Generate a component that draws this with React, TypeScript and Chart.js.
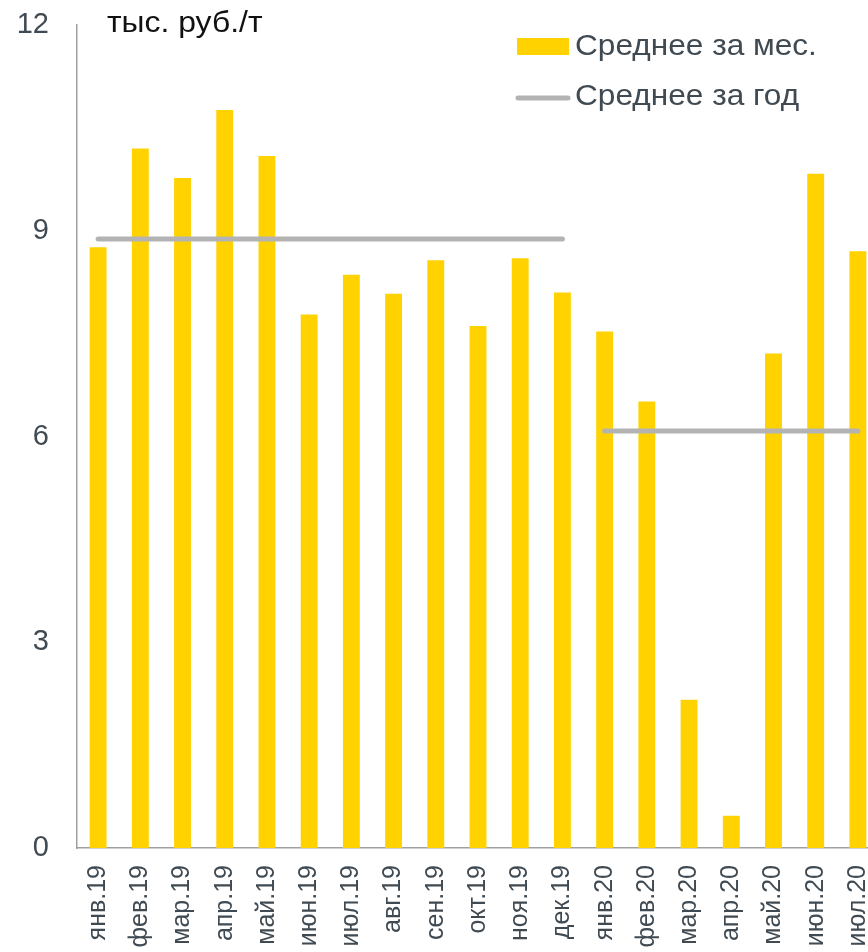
import React, { useEffect, useRef } from "react";
import { Chart, registerables } from "chart.js";

Chart.register(...registerables);

const categories = [
  "янв.19", "фев.19", "мар.19", "апр.19", "май.19", "июн.19", "июл.19", "авг.19", "сен.19", "окт.19", "ноя.19", "дек.19",
  "янв.20", "фев.20", "мар.20", "апр.20", "май.20", "июн.20", "июл.20",
];
const monthlyAvg = [8.76, 10.2, 9.77, 10.76, 10.09, 7.78, 8.36, 8.08, 8.57, 7.61, 8.6, 8.1, 7.53, 6.51, 2.16, 0.47, 7.21, 9.83, 8.7];
const yearAvg2019 = [8.88, 8.88, 8.88, 8.88, 8.88, 8.88, 8.88, 8.88, 8.88, 8.88, 8.88, 8.88, null, null, null, null, null, null, null];
const yearAvg2020 = [null, null, null, null, null, null, null, null, null, null, null, null, 6.08, 6.08, 6.08, 6.08, 6.08, 6.08, 6.08];
const yTicks = [0, 3, 6, 9, 12];
const unitLabel = "тыс. руб./т";
const seriesNames = ["Среднее за мес.", "Среднее за год"];

const YELLOW = "#FFD200";
const GRAY_LINE = "#B3B3B3";
const TEXT = "#404a52";
const FONT = "'Liberation Sans', Arial, sans-serif";

function stretchedText(ctx: any, text: string, x: number, y: number, sx: number) {
  ctx.save();
  ctx.translate(x, y);
  ctx.scale(sx, 1);
  ctx.fillText(text, 0, 0);
  ctx.restore();
}

const overlayPlugin = {
  id: "overlay",
  afterDraw(chart: any) {
    const ctx = chart.ctx;
    ctx.save();
    ctx.font = `29px ${FONT}`;
    ctx.textAlign = "left";
    ctx.textBaseline = "alphabetic";
    ctx.fillStyle = "#111";
    stretchedText(ctx, unitLabel, 107, 32, 1.1);
    ctx.textBaseline = "middle";
    ctx.fillStyle = YELLOW;
    ctx.fillRect(517, 38, 52, 17);
    ctx.fillStyle = TEXT;
    stretchedText(ctx, seriesNames[0], 575, 47, 1.09);
    ctx.strokeStyle = GRAY_LINE;
    ctx.lineWidth = 5;
    ctx.lineCap = "round";
    ctx.beginPath();
    ctx.moveTo(518, 98);
    ctx.lineTo(568, 98);
    ctx.stroke();
    ctx.fillStyle = TEXT;
    stretchedText(ctx, seriesNames[1], 575, 97, 1.09);
    ctx.restore();
  },
};

export default function App() {
  const ref = useRef<HTMLCanvasElement | null>(null);
  useEffect(() => {
    document.body.style.margin = "0";
    document.body.style.overflow = "hidden";
    const chart = new Chart(ref.current as HTMLCanvasElement, {
      type: "bar",
      data: {
        labels: categories,
        datasets: [
          {
            type: "bar",
            label: seriesNames[0],
            data: monthlyAvg,
            backgroundColor: YELLOW,
            barPercentage: 0.5,
            categoryPercentage: 0.8,
            order: 2,
          },
          {
            type: "line",
            label: seriesNames[1],
            data: yearAvg2019 as any,
            borderColor: GRAY_LINE,
            borderWidth: 5,
            borderCapStyle: "round",
            pointRadius: 0,
            spanGaps: false,
            order: 1,
          },
          {
            type: "line",
            label: seriesNames[1] + " 2020",
            data: yearAvg2020 as any,
            borderColor: GRAY_LINE,
            borderWidth: 5,
            borderCapStyle: "round",
            pointRadius: 0,
            spanGaps: false,
            order: 1,
          },
        ] as any,
      },
      options: {
        animation: false,
        responsive: true,
        maintainAspectRatio: false,
        layout: { padding: { top: 25, left: 0, right: 0, bottom: 0 } },
        plugins: {
          legend: { display: false },
          tooltip: { enabled: false },
        },
        scales: {
          x: {
            grid: { display: false, drawTicks: false },
            border: { display: true, color: "#a0a0a0", width: 1.5 },
            ticks: {
              autoSkip: false,
              minRotation: 90,
              maxRotation: 90,
              padding: 17,
              color: TEXT,
              font: { family: FONT, size: 25 },
            },
            afterFit(scale: any) {
              scale.height = 104;
              scale.paddingLeft = 0;
              scale.paddingRight = 0;
              scale.paddingTop = 0;
              scale.paddingBottom = 0;
            },
          },
          y: {
            min: 0,
            max: 12,
            afterBuildTicks(scale: any) {
              scale.ticks = yTicks.map((v) => ({ value: v }));
            },
            grid: { display: false, drawTicks: false },
            border: { display: true, color: "#a0a0a0", width: 1.5 },
            ticks: {
              padding: 28,
              color: TEXT,
              font: { family: FONT, size: 29 },
            },
            afterFit(scale: any) {
              scale.width = 77;
              scale.paddingLeft = 0;
              scale.paddingRight = 0;
              scale.paddingTop = 0;
              scale.paddingBottom = 0;
            },
          },
        },
      },
      plugins: [overlayPlugin],
    });
    return () => chart.destroy();
  }, []);

  return (
    <div style={{ position: "fixed", left: 0, top: 0, width: 868, height: 952, overflow: "hidden", background: "#fff" }}>
      <div style={{ position: "absolute", left: 0, top: 0, width: 879, height: 952 }}>
        <canvas ref={ref} />
      </div>
    </div>
  );
}
